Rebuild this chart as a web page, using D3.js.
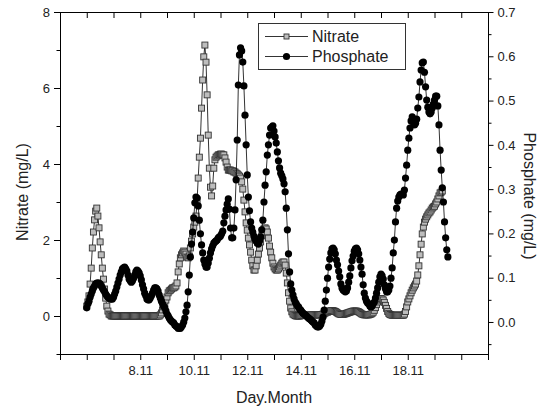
<!DOCTYPE html>
<html><head><meta charset="utf-8">
<script src="https://cdn.jsdelivr.net/npm/d3@7"></script>
<style>body{margin:0;background:#fff}svg{display:block;font-family:"Liberation Sans",Arial,sans-serif}</style>
</head><body><svg id="c" width="540" height="412"></svg>
<script>
// Hourly samples starting 6.11 00:00
const nitrate = [
0.26,0.37,0.53,0.84,1.26,1.79,2.21,2.53,2.76,2.84,2.63,2.32,1.95,1.61,1.26,0.97,0.71,0.47,0.26,0.13,0.05,0.03,0.00,0.00,
0,0,0,0,0,0,0,0,0,0,0,0,0,0,0,0,0,0,0,0,0,0,0,0,
0,0,0,0,0,0,0,0,0,0,0,0,0,0,0,0,0,0,0.03,0.08,0.16,0.24,0.32,0.42,
0.50,0.61,0.66,0.68,0.71,0.74,0.74,0.76,0.79,0.87,1.16,1.37,1.53,1.61,1.66,1.71,1.68,1.63,1.55,1.53,1.58,1.79,1.97,2.16,
2.34,2.47,2.63,3.05,3.63,4.18,4.68,5.47,6.21,6.82,7.13,6.68,5.82,4.76,3.89,3.39,3.16,3.42,3.89,4.11,4.18,4.21,4.24,4.24,
4.26,4.26,4.24,4.24,4.16,4.05,3.92,3.84,3.84,3.84,3.82,3.82,3.79,3.79,3.76,3.74,3.71,3.68,3.63,3.53,3.34,3.05,2.74,2.45,
2.26,2.05,1.87,1.68,1.47,1.32,1.21,1.21,1.32,1.47,1.63,1.79,1.95,2.11,2.21,2.29,2.32,2.29,2.21,2.05,1.84,1.68,1.53,1.39,
1.29,1.24,1.21,1.21,1.24,1.29,1.34,1.39,1.42,1.42,1.34,1.13,0.87,0.61,0.39,0.21,0.11,0.05,0.03,0.01,0.00,0.00,0.00,0.00,
0.01,0.01,0.02,0.02,0.02,0.02,0.02,0.02,0.02,0.03,0.03,0.03,0.03,0.03,0.03,0.03,0.03,0.03,0.04,0.04,0.05,0.06,0.08,0.10,
0.10,0.12,0.13,0.14,0.14,0.14,0.13,0.12,0.10,0.08,0.06,0.05,0.04,0.04,0.04,0.05,0.06,0.07,0.08,0.09,0.10,0.11,0.12,0.13,
0.13,0.13,0.13,0.12,0.11,0.09,0.07,0.05,0.04,0.03,0.03,0.03,0.03,0.03,0.04,0.05,0.07,0.10,0.15,0.22,0.30,0.37,0.42,0.45,
0.46,0.45,0.42,0.36,0.28,0.20,0.12,0.07,0.04,0.03,0.02,0.02,0.02,0.02,0.02,0.02,0.02,0.02,0.02,0.02,0.02,0.05,0.12,0.24,
0.37,0.45,0.53,0.61,0.68,0.74,0.79,0.84,0.92,1.08,1.32,1.61,1.89,2.16,2.34,2.47,2.55,2.61,2.66,2.71,2.74,2.79,2.84,2.87,
2.89,2.95,3.00,3.08,3.16,3.24,3.26,3.29
];
const phosphate = [
0.032,0.041,0.047,0.056,0.063,0.070,0.077,0.081,0.086,0.088,0.088,0.088,0.086,0.081,0.077,0.072,0.068,0.063,0.059,0.056,0.054,0.052,0.052,0.052,
0.056,0.063,0.070,0.079,0.088,0.097,0.106,0.113,0.120,0.122,0.124,0.120,0.115,0.106,0.097,0.093,0.090,0.093,0.099,0.106,0.113,0.117,0.115,0.111,
0.104,0.095,0.084,0.075,0.065,0.059,0.052,0.050,0.050,0.054,0.059,0.065,0.072,0.077,0.077,0.075,0.070,0.061,0.054,0.047,0.041,0.036,0.032,0.025,
0.018,0.014,0.009,0.005,0.002,0.000,-0.002,-0.007,-0.009,-0.011,-0.014,-0.014,-0.014,-0.011,-0.007,0.000,0.009,0.023,0.038,0.068,0.106,0.147,0.176,0.203,
0.235,0.269,0.282,0.280,0.262,0.230,0.199,0.174,0.156,0.140,0.131,0.124,0.124,0.133,0.144,0.156,0.165,0.172,0.178,0.181,0.183,0.185,0.190,0.192,
0.194,0.199,0.205,0.224,0.239,0.253,0.266,0.278,0.255,0.212,0.190,0.190,0.212,0.253,0.321,0.411,0.535,0.603,0.619,0.612,0.587,0.533,0.467,0.400,
0.332,0.282,0.251,0.226,0.212,0.203,0.194,0.187,0.183,0.178,0.176,0.183,0.192,0.208,0.230,0.271,0.309,0.339,0.377,0.400,0.422,0.438,0.440,0.443,
0.431,0.418,0.404,0.384,0.364,0.348,0.336,0.330,0.323,0.312,0.294,0.257,0.208,0.154,0.113,0.086,0.072,0.061,0.052,0.045,0.041,0.036,0.034,0.029,
0.027,0.023,0.020,0.018,0.016,0.014,0.011,0.009,0.007,0.005,0.002,0.000,-0.002,-0.007,-0.009,-0.011,-0.011,-0.009,-0.005,0.002,0.011,0.027,0.047,0.072,
0.099,0.124,0.142,0.156,0.165,0.167,0.163,0.154,0.140,0.129,0.115,0.102,0.086,0.077,0.072,0.070,0.068,0.070,0.077,0.090,0.104,0.122,0.138,0.149,
0.160,0.165,0.167,0.163,0.154,0.140,0.124,0.108,0.084,0.065,0.054,0.047,0.043,0.041,0.036,0.034,0.036,0.041,0.045,0.054,0.065,0.077,0.090,0.102,
0.108,0.104,0.097,0.084,0.075,0.068,0.068,0.072,0.081,0.099,0.122,0.156,0.185,0.226,0.257,0.273,0.282,0.287,0.289,0.289,0.287,0.298,0.325,0.354,
0.388,0.415,0.438,0.454,0.463,0.454,0.445,0.449,0.458,0.483,0.508,0.542,0.569,0.585,0.587,0.564,0.531,0.501,0.485,0.474,0.470,0.474,0.483,0.492,
0.501,0.510,0.510,0.488,0.445,0.388,0.343,0.303,0.271,0.226,0.190,0.163,0.147
];
const startDay = 6;          // first sample: 6.11
const stepDays = 1 / 24;     // hourly sampling
const xTickDays = [5,6,7,8,9,10,11,12,13,14,15,16,17,18,19,20,21];
const xLabelDays = [8,10,12,14,16,18];
const xLabelText = ["8.11","10.11","12.11","14.11","16.11","18.11"];
const leftMajor = [0,2,4,6,8];
const leftMinor = [-1,1,3,5,7];
const rightMajor = [0.0,0.1,0.2,0.3,0.4,0.5,0.6,0.7];
const rightMinor = [-0.05,0.05,0.15,0.25,0.35,0.45,0.55,0.65];
const seriesNames = ["Nitrate","Phosphate"];
const axisTitles = {x:"Day.Month", left:"Nitrate (mg/L)", right:"Phosphate (mg/L)"};

const L = 60, R = 488, T = 12, B = 354;
const svg = d3.select("#c");
const x = d3.scaleLinear().domain([5,21]).range([L,R]);
const yL = d3.scaleLinear().domain([-1,8]).range([B,T]);
const yR = d3.scaleLinear().domain([-0.0723,0.7]).range([B,T]);
const tickColor = "#000", labelColor = "#222";

function styleAxis(g){
  g.select(".domain").remove();
  g.selectAll(".tick line").attr("stroke",tickColor).attr("stroke-width",1);
  g.selectAll(".tick text").attr("fill",labelColor).style("font-size","13px").style("font-family",'"Liberation Sans",Arial,sans-serif');
}
// left
svg.append("g").attr("transform",`translate(${L},0)`)
  .call(d3.axisLeft(yL).tickValues(leftMajor).tickSize(6).tickPadding(4).tickFormat(d3.format("d"))).call(styleAxis);
svg.append("g").attr("transform",`translate(${L},0)`)
  .call(d3.axisLeft(yL).tickValues(leftMinor).tickSize(3.5).tickFormat("")).call(styleAxis);
// right
svg.append("g").attr("transform",`translate(${R},0)`)
  .call(d3.axisRight(yR).tickValues(rightMajor).tickSize(5.5).tickPadding(4).tickFormat(d3.format(".1f"))).call(styleAxis);
svg.append("g").attr("transform",`translate(${R},0)`)
  .call(d3.axisRight(yR).tickValues(rightMinor).tickSize(3.5).tickFormat("")).call(styleAxis);
// bottom
svg.append("g").attr("transform",`translate(0,${B})`)
  .call(d3.axisBottom(x).tickValues(xTickDays).tickSize(6).tickPadding(6)
    .tickFormat(d => { const k = xLabelDays.indexOf(d); return k >= 0 ? xLabelText[k] : ""; }))
  .call(styleAxis);
// top (inward)
svg.append("g").attr("transform",`translate(0,${T})`)
  .call(d3.axisBottom(x).tickValues(xTickDays).tickSize(6).tickFormat("")).call(styleAxis);

// frame
svg.append("rect").attr("x",L+0.5).attr("y",T+0.5).attr("width",R-L).attr("height",B-T)
  .attr("fill","none").attr("stroke","#000").attr("stroke-width",1);

// titles
svg.append("text").attr("x",274).attr("y",403).attr("text-anchor","middle")
  .attr("fill",labelColor).style("font-size","16px").text(axisTitles.x);
svg.append("text").attr("transform","translate(28,192) rotate(-90)").attr("text-anchor","middle")
  .attr("fill",labelColor).style("font-size","16px").text(axisTitles.left);
svg.append("text").attr("transform","translate(524,196) rotate(90)").attr("text-anchor","middle")
  .attr("fill",labelColor).style("font-size","16px").text(axisTitles.right);

const tOf = i => startDay + i * stepDays;
const nData = nitrate.map((v,i)=>({t:tOf(i), v}));
const pData = phosphate.map((v,i)=>({t:tOf(i), v}));

const plot = svg.append("g");
// nitrate
plot.append("path").datum(nData).attr("fill","none").attr("stroke","#000").attr("stroke-width",0.8)
  .attr("d", d3.line().x(d=>x(d.t)).y(d=>yL(d.v)));
plot.append("g").selectAll("rect").data(nData).join("rect")
  .attr("x",d=>x(d.t)-3).attr("y",d=>yL(d.v)-3).attr("width",6).attr("height",6)
  .attr("fill","#bdbdbd").attr("stroke","#333").attr("stroke-width",0.9);
// phosphate
plot.append("path").datum(pData).attr("fill","none").attr("stroke","#000").attr("stroke-width",0.8)
  .attr("d", d3.line().x(d=>x(d.t)).y(d=>yR(d.v)));
plot.append("g").selectAll("circle").data(pData).join("circle")
  .attr("cx",d=>x(d.t)).attr("cy",d=>yR(d.v)).attr("r",3.6).attr("fill","#000");

// legend
const lg = svg.append("g");
lg.append("rect").attr("x",258.5).attr("y",23.5).attr("width",147).attr("height",46)
  .attr("fill","#fff").attr("stroke","#333").attr("stroke-width",1);
const rows = [36.5, 56.5];
seriesNames.forEach((name,k)=>{
  const yy = rows[k];
  lg.append("line").attr("x1",265).attr("x2",308).attr("y1",yy).attr("y2",yy).attr("stroke","#000").attr("stroke-width",0.8);
  if(k===0){
    lg.append("rect").attr("x",286.5-2.5).attr("y",yy-2.5).attr("width",5).attr("height",5)
      .attr("fill","#bdbdbd").attr("stroke","#333").attr("stroke-width",0.9);
  } else {
    lg.append("circle").attr("cx",286.5).attr("cy",yy).attr("r",3.6).attr("fill","#000");
  }
  lg.append("text").attr("x",312).attr("y",yy+5.8).attr("fill",labelColor).style("font-size","16px").text(name);
});
</script></body></html>
